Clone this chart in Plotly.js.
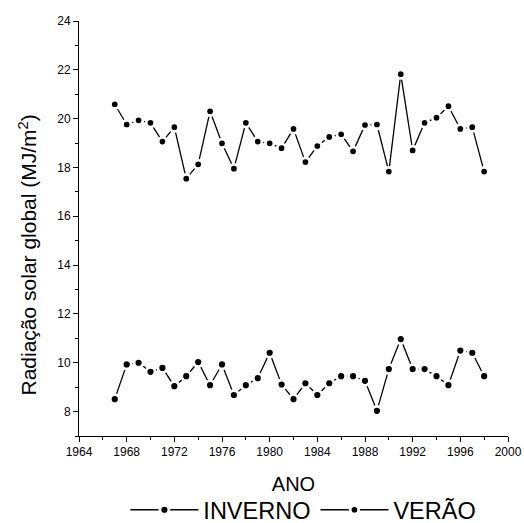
<!DOCTYPE html>
<html>
<head>
<meta charset="utf-8">
<script src="https://cdn.plot.ly/plotly-3.0.1.min.js"></script>
<style>html,body{margin:0;padding:0;background:#fff;}#chart{width:524px;height:523px;}</style>
</head>
<body>
<div id="chart"></div>
<script>
const years = [1967,1968,1969,1970,1971,1972,1973,1974,1975,1976,1977,1978,1979,1980,1981,1982,
               1983,1984,1985,1986,1987,1988,1989,1990,1991,1992,1993,1994,1995,1996,1997,1998];
const inverno = [8.51,9.93,10.00,9.63,9.79,9.04,9.45,10.03,9.08,9.93,8.68,9.08,9.37,10.41,9.11,8.51,
                 9.16,8.68,9.16,9.45,9.45,9.26,8.03,9.74,10.97,9.74,9.74,9.45,9.08,10.50,10.41,9.45];
const verao = [20.59,19.76,19.93,19.83,19.06,19.65,17.54,18.13,20.30,18.99,17.95,19.83,19.06,18.99,18.79,19.58,
               18.22,18.88,19.25,19.36,18.66,19.74,19.76,17.83,21.82,18.70,19.83,20.04,20.51,19.58,19.65,17.83];
const seriesNames = ["INVERNO", "VERÃO"];
const xTitle = "ANO";
const yTitle = "Radiação solar global (MJ/m<sup>2</sup>)";

const font = "Liberation Sans, Arial, sans-serif";

const traces = [
  {x: years, y: inverno, name: seriesNames[0], type: "scatter", mode: "lines+markers",
   line: {color: "#000", width: 1.3},
   marker: {color: "#000", size: 9, line: {color: "#fff", width: 2.8}}},
  {x: years, y: verao, name: seriesNames[1], type: "scatter", mode: "lines+markers",
   line: {color: "#000", width: 1.3},
   marker: {color: "#000", size: 8.5, line: {color: "#fff", width: 2.8}}}
];

const axisCommon = {
  showline: true, linecolor: "#000", linewidth: 1, mirror: false,
  showgrid: false, zeroline: false, automargin: false,
  ticks: "outside", ticklen: 5, tickwidth: 1, tickcolor: "#000",
  tickfont: {family: font, size: 12, color: "#000"},
  minor: {ticks: "outside", ticklen: 3, tickwidth: 1, tickcolor: "#000", showgrid: false}
};

const layout = {
  width: 524, height: 523,
  margin: {l: 79, r: 16, t: 21, b: 87, autoexpand: false},
  paper_bgcolor: "#fff", plot_bgcolor: "#fff",
  font: {family: font, color: "#000"},
  showlegend: true,
  xaxis: Object.assign({}, axisCommon, {
    range: [1964, 2000], tick0: 1964, dtick: 4,
    minor: Object.assign({}, axisCommon.minor, {dtick: 2}),
    title: {text: xTitle, font: {family: font, size: 20, color: "#000"}, standoff: 18}
  }),
  yaxis: Object.assign({}, axisCommon, {
    range: [7, 24], tick0: 8, dtick: 2,
    minor: Object.assign({}, axisCommon.minor, {dtick: 1, tick0: 7})
  }),
  legend: {
    orientation: "h", x: 0.523, xanchor: "center", y: (436 - 510) / 415, yanchor: "middle",
    font: {family: font, size: 23.5, color: "#000"},
    itemwidth: 68, tracegroupgap: 0, bgcolor: "rgba(0,0,0,0)", borderwidth: 0
  },
  annotations: [{
    text: yTitle, textangle: -90, showarrow: false,
    xref: "paper", yref: "paper", x: -0.12, xanchor: "center",
    y: (436 - 255) / 415, yanchor: "middle",
    font: {family: font, size: 21, color: "#000"}
  }]
};

Plotly.newPlot("chart", traces, layout, {displayModeBar: false, staticPlot: true});
</script>
</body>
</html>
